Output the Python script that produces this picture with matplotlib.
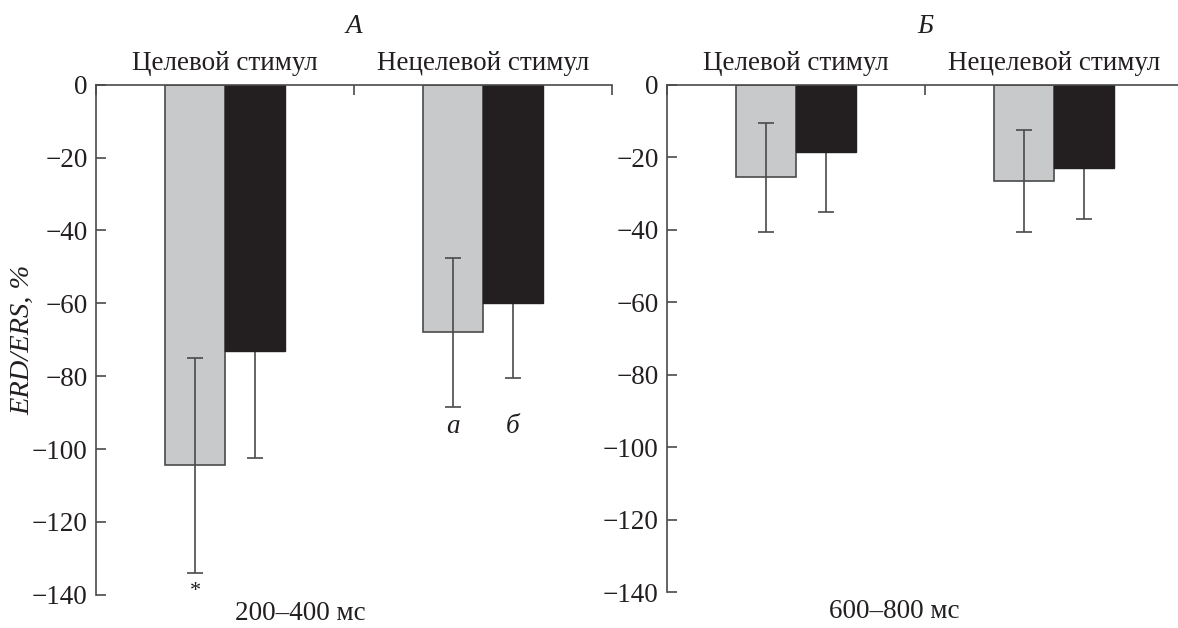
import matplotlib.pyplot as plt
import numpy as np

plt.rcParams['font.family'] = ['Liberation Serif', 'DejaVu Serif']

# data
categories = ['Целевой стимул', 'Нецелевой стимул']
windows = ['200–400 мс', '600–800 мс']
panel_letters = ['А', 'Б']

gray_mean_early = [-104.5, -68.0]
gray_err_early = [29.5, 20.5]
black_mean_early = [-73.0, -60.0]
black_err_early = [29.5, 20.5]

gray_mean_late = [-25.5, -26.5]
gray_err_late = [15.0, 14.0]
black_mean_late = [-18.5, -23.0]
black_err_late = [16.5, 14.0]

yticks = [0, -20, -40, -60, -80, -100, -120, -140]

GRAY = '#c8c9cb'
BLACK = '#231f20'
LINE = '#4a4a4a'
TXT = '#231f20'
FS = 19.5

fig = plt.figure(figsize=(11.78, 6.28), dpi=100)
ax1 = fig.add_axes([96 / 1178, 0.053, 516 / 1178, 0.812])
ax2 = fig.add_axes([667 / 1178, 0.057, 516 / 1178, 0.808])

panels = [
    (ax1, gray_mean_early, gray_err_early, black_mean_early, black_err_early),
    (ax2, gray_mean_late, gray_err_late, black_mean_late, black_err_late),
]

x = np.array([0.5, 1.5])
w = 0.232
for i, (ax, gm, ge, bm, be) in enumerate(panels):
    # black error bars sit behind the black bars, so only the lower half shows
    ax.errorbar(x + w / 2, bm, yerr=be, fmt='none', ecolor=LINE,
                elinewidth=1.2, capsize=6, capthick=1.2, zorder=1)
    ax.bar(x - w / 2, gm, w, color=GRAY, edgecolor=LINE, linewidth=1.2,
           zorder=2)
    ax.bar(x + w / 2, bm, w, color=BLACK, edgecolor=BLACK, linewidth=1.0,
           zorder=2)
    ax.errorbar(x - w / 2, gm, yerr=ge, fmt='none', ecolor=LINE,
                elinewidth=1.2, capsize=6, capthick=1.2, zorder=3)

    ax.set_xlim(0, 2)
    ax.set_ylim(-140, 0)
    ax.set_yticks(yticks)
    ax.set_yticklabels([f'{t}'.replace('-', '\u2212') for t in yticks])
    ax.xaxis.tick_top()
    ax.set_xticks([0, 1, 2])
    ax.set_xticklabels([])
    ax.tick_params(axis='both', direction='in', length=7, width=1.2,
                   labelsize=FS, colors=LINE, labelcolor=TXT, pad=6)
    for s in ['bottom', 'right']:
        ax.spines[s].set_visible(False)
    for s in ['top', 'left']:
        ax.spines[s].set_linewidth(1.2)
        ax.spines[s].set_color(LINE)

    for xc, cat in zip(x, categories):
        ax.text(xc, 1.018, cat, transform=ax.get_xaxis_transform(),
                ha='center', va='bottom', fontsize=FS, color=TXT)
    ax.text(0.5, 1.09, panel_letters[i], transform=ax.transAxes,
            ha='center', va='bottom', fontsize=FS, style='italic', color=TXT)

ax1.text(0.395, -0.013, windows[0], transform=ax1.transAxes, ha='center',
         va='top', fontsize=FS, color=TXT)
ax2.text(0.44, -0.013, windows[1], transform=ax2.transAxes, ha='center',
         va='top', fontsize=FS, color=TXT)

ax1.set_ylabel('ERD/ERS, %', fontsize=20.5, style='italic', color=TXT)
ax1.yaxis.set_label_coords(-0.117, 0.5)

# significance marks
ax1.text(x[0] - w / 2, -139, '*', ha='center', va='center', fontsize=16,
         color=TXT)
ax1.text(x[1] - w / 2, -90.5, 'а', ha='center', va='top', fontsize=FS,
         style='italic', color=TXT)
ax1.text(x[1] + w / 2, -90.5, 'б', ha='center', va='top', fontsize=FS,
         style='italic', color=TXT)

fig.savefig('out.png', dpi=100)
